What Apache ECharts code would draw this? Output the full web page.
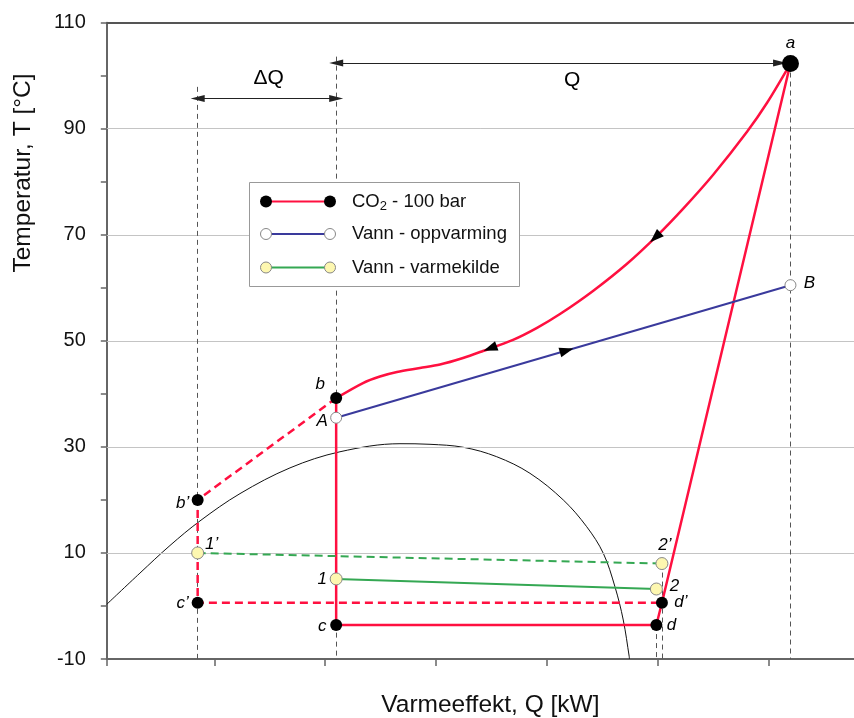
<!DOCTYPE html>
<html>
<head>
<meta charset="utf-8">
<script src="https://cdn.jsdelivr.net/npm/echarts@6/dist/echarts.min.js"></script>
<style>
  html, body { margin: 0; padding: 0; background: #fff; }
  #chart { width: 854px; height: 718px; }
</style>
</head>
<body>
<div id="chart"></div>
<script>
const FONT = "'Liberation Sans', Arial, Helvetica, sans-serif";

// Temperature axis (°C)
const tempMin = -10, tempMax = 110, tempTickStep = 10;
const tempLabels = [-10, 10, 30, 50, 70, 90, 110];

// Heat-flow axis: ticks only, no numbers
const qMin = 0.03, qMax = 6.954;
const qTicks = [0.03, 1, 2, 3, 4, 5, 6];

// CO2 state points
const co2Names = ['a', 'b', 'b’', 'c’', 'c', 'd', 'd’'];
const co2Q     = [6.2, 2.1, 0.85, 0.85, 2.1, 4.99, 5.04];
const co2T     = [102.3, 39.2, 20, 0.6, -3.6, -3.6, 0.6];

// Water being heated, A -> B
const heatNames = ['A', 'B'];
const heatQ     = [2.1, 6.2];
const heatT     = [35.5, 60.5];

// Heat-source water
const sourceNames = ['1', '2', '1’', '2’'];
const sourceQ     = [2.1, 4.99, 0.85, 5.04];
const sourceT     = [5.1, 3.2, 10, 8];

// CO2 gas-cooler curve, from b up to a
const coolingQ = [2.1, 2.342, 2.495, 2.649, 2.856, 3.037, 3.245, 3.425, 3.696, 3.913, 4.12, 4.418, 4.725, 4.995, 5.23, 5.501, 5.808, 5.989, 6.2];
const coolingT = [39.2, 42.05, 43.28, 44.13, 44.88, 45.54, 46.77, 48.09, 50.18, 52.45, 55.05, 59.41, 64.54, 69.8, 74.9, 81.29, 89.44, 94.91, 102.3];

// Saturation dome
const domeQ = [0.03, 0.329, 0.6, 0.871, 1.232, 1.683, 2.134, 2.676, 2.947, 3.247, 3.549, 3.849, 4.15, 4.361, 4.511, 4.616, 4.691, 4.745, 4.747];
const domeT = [0.32, 6.2, 11.4, 16.04, 21.19, 26.04, 29.08, 30.6, 30.49, 29.93, 28.15, 25.02, 19.99, 14.95, 9.93, 3.63, -2.64, -9.57, -10];

// Vertical guide lines: point name and top temperature (null = start at the point)
const guideNames = ['b’', 'b', 'a', 'd', '2’'];
const guideTops  = [97.9, 103.6, null, null, null];

// Dimension arrows ΔQ and Q
const dimText  = ['ΔQ', 'Q'];
const dimFromQ = [0.85, 2.1];
const dimToQ   = [2.1, 6.106];
const dimT     = [95.7, 102.4];
const dimTextQ = [1.49, 4.23];
const dimTextT = [99.6, 99.2];

// Flow-direction arrows: position along a path
const arrowPath = ['cooling', 'cooling', 'heat'];
const arrowQ    = [4.98, 3.49, 4.18];

// Label placement around each point (pixel offsets from the marker centre)
const labelOffset = {
  'a': [0, -20], 'b': [-16, -14], 'b’': [-15, 3], 'c’': [-15, 0], 'c': [-14, 1],
  'd': [15, 0], 'd’': [19, -1], 'A': [-14, 4], 'B': [19, -2],
  '1': [-14, 0], '2': [18, -3], '1’': [14, -9], '2’': [3, -18]
};

const RED = '#ff1040', BLUE = '#3a3a9c', GREEN = '#35a853';
const INK = '#000';

const P = {};
co2Names.forEach((n, i) => P[n] = [co2Q[i], co2T[i]]);
heatNames.forEach((n, i) => P[n] = [heatQ[i], heatT[i]]);
sourceNames.forEach((n, i) => P[n] = [sourceQ[i], sourceT[i]]);
const path = names => names.map(n => P[n]);
const zip = (a, b) => a.map((v, i) => [v, b[i]]);

const labelBase = { show: true, position: 'inside', color: INK, opacity: 1, fontSize: 17, fontStyle: 'italic', fontFamily: FONT, formatter: p => p.name };
const pointItems = names => names.map(n => ({
  name: n, value: P[n],
  symbolSize: n === 'a' ? 17 : 12,
  label: { offset: labelOffset[n] }
}));

const chart = echarts.init(document.getElementById('chart'), null, { renderer: 'canvas' });

const option = {
  animation: false,
  backgroundColor: '#fff',
  grid: { left: 106.8, top: 22.7, width: 767.2, height: 636.3, containLabel: false, outerBoundsMode: 'none' },
  xAxis: [{
    type: 'value', min: qMin, max: qMax, position: 'bottom',
    axisLine: { onZero: false, lineStyle: { color: '#666', width: 2 } },
    axisTick: { show: true, customValues: qTicks, length: 7, lineStyle: { color: '#666', width: 1.5 } },
    axisLabel: { show: false },
    splitLine: { show: false },
    name: 'Varmeeffekt, Q [kW]', nameLocation: 'middle', nameGap: 34,
    nameTextStyle: { fontSize: 24.5, color: '#111', fontFamily: FONT }
  }, {
    type: 'value', min: qMin, max: qMax, position: 'top',
    axisLine: { show: true, onZero: false, lineStyle: { color: '#555', width: 2 } },
    axisTick: { show: false }, axisLabel: { show: false }, splitLine: { show: false }
  }],
  yAxis: {
    type: 'value', min: tempMin, max: tempMax, interval: tempTickStep,
    axisLine: { show: true, onZero: false, lineStyle: { color: '#666', width: 2 } },
    axisTick: { show: true, length: 6, lineStyle: { color: '#666', width: 1.5 } },
    axisLabel: {
      margin: 21, fontSize: 20, color: '#111', fontFamily: FONT,
      formatter: v => tempLabels.includes(v) ? String(v) : ''
    },
    splitLine: { show: false }
  },
  graphic: [
    {
      type: 'text', x: 23, y: 173, rotation: Math.PI / 2, z: 50,
      style: { text: 'Temperatur, T [°C]', fontSize: 24.5, fontFamily: FONT, fill: '#111', align: 'center', verticalAlign: 'middle' }
    },
    {
      type: 'group', x: 249, y: 182, z: 100,
      children: [
        { type: 'rect', shape: { x: 0.5, y: 0.5, width: 270, height: 104 }, style: { fill: '#fff', stroke: '#999', lineWidth: 1 }, z: 100 },
        { type: 'line', shape: { x1: 17, y1: 19.5, x2: 81, y2: 19.5 }, style: { stroke: RED, lineWidth: 2 }, z: 101 },
        { type: 'circle', shape: { cx: 17, cy: 19.5, r: 6 }, style: { fill: '#000' }, z: 102 },
        { type: 'circle', shape: { cx: 81, cy: 19.5, r: 6 }, style: { fill: '#000' }, z: 102 },
        { type: 'text', x: 103, y: 19.5, z: 102,
          style: { text: '{n|CO}{s|2}{n| - 100 bar}', fill: '#111', verticalAlign: 'middle',
            rich: { n: { fontSize: 18.5, fontFamily: FONT, fill: '#111' },
                    s: { fontSize: 13, fontFamily: FONT, fill: '#111', padding: [9, 0, 0, 0] } } } },
        { type: 'line', shape: { x1: 17, y1: 52, x2: 81, y2: 52 }, style: { stroke: BLUE, lineWidth: 2 }, z: 101 },
        { type: 'circle', shape: { cx: 17, cy: 52, r: 5.5 }, style: { fill: '#fff', stroke: '#888', lineWidth: 1 }, z: 102 },
        { type: 'circle', shape: { cx: 81, cy: 52, r: 5.5 }, style: { fill: '#fff', stroke: '#888', lineWidth: 1 }, z: 102 },
        { type: 'text', x: 103, y: 52, z: 102,
          style: { text: 'Vann - oppvarming', fontSize: 18.5, fontFamily: FONT, fill: '#111', verticalAlign: 'middle' } },
        { type: 'line', shape: { x1: 17, y1: 85.5, x2: 81, y2: 85.5 }, style: { stroke: GREEN, lineWidth: 2 }, z: 101 },
        { type: 'circle', shape: { cx: 17, cy: 85.5, r: 5.5 }, style: { fill: '#fdf7b0', stroke: '#888', lineWidth: 1 }, z: 102 },
        { type: 'circle', shape: { cx: 81, cy: 85.5, r: 5.5 }, style: { fill: '#fdf7b0', stroke: '#888', lineWidth: 1 }, z: 102 },
        { type: 'text', x: 103, y: 85.5, z: 102,
          style: { text: 'Vann - varmekilde', fontSize: 18.5, fontFamily: FONT, fill: '#111', verticalAlign: 'middle' } }
      ]
    }
  ],
  series: [
    {
      // horizontal grid lines at the labelled temperatures
      type: 'line', data: [], z: 1, silent: true,
      markLine: {
        silent: true, symbol: 'none', label: { show: false },
        lineStyle: { color: '#c4c4c4', width: 1, type: 'solid' },
        data: tempLabels.slice(1, -1).map(v => ({ yAxis: v }))
      }
    },
    {
      // dashed vertical guides
      type: 'line', data: [], z: 2, silent: true,
      markLine: {
        silent: true, symbol: 'none', label: { show: false },
        lineStyle: { color: '#555', width: 1, type: [5, 4] },
        data: guideNames.map((n, i) => [
          { coord: [P[n][0], guideTops[i] == null ? P[n][1] : guideTops[i]] },
          { coord: [P[n][0], tempMin] }
        ])
      }
    },
    {
      // ΔQ and Q dimension arrows
      type: 'line', data: [], z: 3, silent: true,
      markLine: {
        silent: true, symbol: ['triangle', 'triangle'], symbolSize: [7, 14],
        label: { show: false },
        lineStyle: { color: '#222', width: 1, type: 'solid' },
        data: dimText.map((t, i) => [{ coord: [dimFromQ[i], dimT[i]] }, { coord: [dimToQ[i], dimT[i]] }])
      }
    },
    {
      type: 'scatter', z: 3, silent: true, symbolSize: 0,
      data: dimText.map((t, i) => ({ name: t, value: [dimTextQ[i], dimTextT[i]] })),
      label: { show: true, position: 'inside', formatter: p => p.name, color: INK, opacity: 1, fontSize: 21, fontFamily: FONT }
    },
    {
      name: 'metning', type: 'line', z: 4, smooth: 0.35, symbol: 'none', silent: true,
      data: zip(domeQ, domeT), lineStyle: { color: '#111', width: 1 }
    },
    {
      name: 'CO2 kjøling', type: 'line', z: 5, smooth: 0.3, symbol: 'none', silent: true,
      data: zip(coolingQ, coolingT), lineStyle: { color: RED, width: 2.5 }
    },
    {
      name: 'CO2', type: 'line', z: 5, symbol: 'none', silent: true,
      data: path(['a', 'd’', 'd', 'c', 'b']), lineStyle: { color: RED, width: 2.5 }
    },
    {
      name: 'CO2 underkjølt', type: 'line', z: 5, symbol: 'none', silent: true,
      data: path(['b', 'b’', 'c’', 'd’']), lineStyle: { color: RED, width: 2.5, type: [8, 5] }
    },
    {
      name: 'Vann - oppvarming', type: 'line', z: 5, symbol: 'none', silent: true,
      data: path(['A', 'B']), lineStyle: { color: BLUE, width: 2 }
    },
    {
      name: 'Vann - varmekilde', type: 'line', z: 5, symbol: 'none', silent: true,
      data: path(['1', '2']), lineStyle: { color: GREEN, width: 2 }
    },
    {
      name: 'Vann - varmekilde 2', type: 'line', z: 5, symbol: 'none', silent: true,
      data: path(['1’', '2’']), lineStyle: { color: GREEN, width: 2, type: [8, 5] }
    },
    { id: 'flowArrows', type: 'scatter', z: 6, silent: true, data: [] },
    {
      type: 'scatter', z: 7, silent: true, symbol: 'circle',
      data: pointItems(co2Names), itemStyle: { color: '#000', opacity: 1 }, label: labelBase
    },
    {
      type: 'scatter', z: 7, silent: true, symbol: 'circle',
      data: pointItems(heatNames).map(d => Object.assign(d, { symbolSize: 11 })),
      itemStyle: { color: '#fff', borderColor: '#888', borderWidth: 1, opacity: 1 }, label: labelBase
    },
    {
      type: 'scatter', z: 7, silent: true, symbol: 'circle',
      data: pointItems(sourceNames),
      itemStyle: { color: '#fdf7b0', borderColor: '#888', borderWidth: 1, opacity: 1 }, label: labelBase
    }
  ]
};

chart.setOption(option);

// Flow arrows: placed on the paths and turned along their local direction
const paths = {
  cooling: { q: coolingQ, t: coolingT, reverse: true },
  heat: { q: heatQ, t: heatT, reverse: false }
};
const arrows = arrowQ.map((q, k) => {
  const pth = paths[arrowPath[k]];
  let i = 0;
  while (i < pth.q.length - 2 && q > pth.q[i + 1]) i++;
  const f = (q - pth.q[i]) / (pth.q[i + 1] - pth.q[i]);
  const t = pth.t[i] + f * (pth.t[i + 1] - pth.t[i]);
  const p0 = chart.convertToPixel({ gridIndex: 0 }, [pth.q[i], pth.t[i]]);
  const p1 = chart.convertToPixel({ gridIndex: 0 }, [pth.q[i + 1], pth.t[i + 1]]);
  let dx = p1[0] - p0[0], dy = p1[1] - p0[1];
  if (pth.reverse) { dx = -dx; dy = -dy; }
  const ang = Math.atan2(-dy, dx) * 180 / Math.PI - 90;
  return { value: [q, t], symbolRotate: ang };
});
chart.setOption({
  series: [{ id: 'flowArrows', symbol: 'triangle', symbolSize: [10, 14], itemStyle: { color: '#000', opacity: 1 }, data: arrows }]
});
</script>
</body>
</html>
